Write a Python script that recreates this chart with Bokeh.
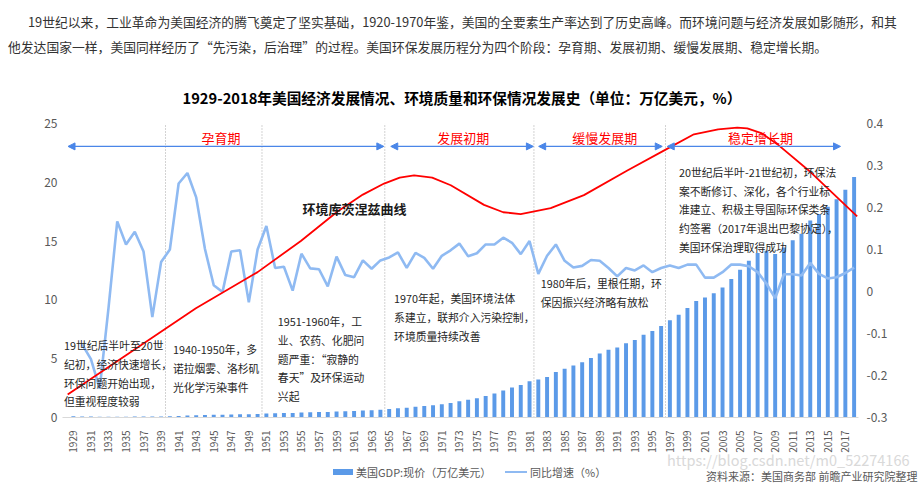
import math
from bokeh.plotting import figure
from bokeh.layouts import column
from bokeh.models import (Range1d, LinearAxis, FixedTicker, Label, Arrow,
                          NormalHead, ColumnDataSource, Div)
from bokeh.embed import file_html
from bokeh.resources import INLINE

# ---------------- data ----------------
years = list(range(1929, 2019))

gdp = [0.10, 0.09, 0.08, 0.06, 0.06, 0.07, 0.07, 0.08, 0.09, 0.09,   # 1929-1938
       0.09, 0.10, 0.13, 0.17, 0.20, 0.22, 0.23, 0.23, 0.25, 0.27,   # 1939-1948
       0.27, 0.29, 0.34, 0.36, 0.38, 0.38, 0.42, 0.44, 0.46, 0.47,   # 1949-1958
       0.51, 0.53, 0.55, 0.59, 0.62, 0.66, 0.72, 0.79, 0.83, 0.91,   # 1959-1968
       0.98, 1.04, 1.13, 1.24, 1.38, 1.50, 1.64, 1.82, 2.03, 2.29,   # 1969-1978
       2.56, 2.76, 3.09, 3.24, 3.45, 3.86, 4.14, 4.42, 4.70, 5.06,   # 1979-1988
       5.44, 5.76, 5.95, 6.31, 6.60, 7.04, 7.35, 7.77, 8.27, 8.74,   # 1989-1998
       9.30, 9.90, 10.21, 10.56, 11.06, 11.78, 12.56, 13.32, 13.98, 14.18,  # 1999-2008
       13.90, 14.46, 15.07, 15.63, 16.74, 17.30, 17.91, 18.55, 19.36, 20.45]  # 2009-2018

growth = [float("nan"),
          -0.126, -0.161, -0.231, -0.040, 0.167, 0.112, 0.142, 0.095, -0.061, 0.070,   # 1930-1939
          0.100, 0.257, 0.282, 0.224, 0.101, 0.015, -0.001, 0.095, 0.098, -0.026,     # 1940-1949
          0.100, 0.156, 0.056, 0.059, 0.002, 0.090, 0.055, 0.053, 0.012, 0.083,       # 1950-1959
          0.039, 0.034, 0.074, 0.054, 0.074, 0.081, 0.093, 0.056, 0.092, 0.080,       # 1960-1969
          0.054, 0.085, 0.098, 0.114, 0.084, 0.091, 0.112, 0.112, 0.128, 0.116,       # 1970-1979
          0.089, 0.120, 0.042, 0.085, 0.112, 0.073, 0.057, 0.061, 0.075, 0.073,       # 1980-1989
          0.056, 0.036, 0.056, 0.050, 0.062, 0.046, 0.056, 0.062, 0.056, 0.064,       # 1990-1999
          0.064, 0.033, 0.033, 0.046, 0.064, 0.064, 0.060, 0.046, 0.019, -0.016,      # 2000-2009
          0.041, 0.041, 0.038, 0.068, 0.042, 0.031, 0.034, 0.044, 0.057]              # 2010-2018

# environmental Kuznets curve (year / left-axis units)
curve_x = [1928.35, 1942.97, 1950.00, 1954.93, 1959.11, 1962.0, 1964.42, 1966.2, 1967.84,
           1969.9, 1972.02, 1975.81, 1978.0, 1979.99, 1983.41, 1987.20, 1992.15,
           1996.62, 1999.74, 2002.5, 2004.68, 2005.82, 2007.5, 2009.24, 2013.03, 2018.35]
curve_y = [1.96, 9.29, 12.36, 15.01, 17.52, 18.95, 19.89, 20.40, 20.59,
           20.40, 19.75, 18.08, 17.45, 17.30, 17.80, 18.91, 21.00,
           22.82, 24.08, 24.50, 24.64, 24.58, 24.15, 23.24, 20.87, 17.10]

left_ticks = [0, 5, 10, 15, 20, 25]
right_ticks = [-0.3, -0.2, -0.1, 0, 0.1, 0.2, 0.3, 0.4]
year_ticks = years[::2]

phase_names = ["孕育期", "发展初期", "缓慢发展期", "稳定增长期"]
phase_start = [1928.39, 1965.18, 1982.04, 1996.70]
phase_end = [1964.39, 1981.44, 1996.13, 2016.45]
phase_label_x = [1945.82, 1973.44, 1989.58, 2007.33]
phase_bounds = [1939.5, 1950.5, 1964.5, 1981.5, 1996.5]

notes = [
    (1927.93, 6.14, ["19世纪后半叶至20世", "纪初，经济快速增长，", "环保问题开始出现，", "但重视程度较弱"]),
    (1940.35, 5.81, ["1940-1950年，多", "诺拉烟雾、洛杉矶", "光化学污染事件"]),
    (1952.31, 8.18, ["1951-1960年，工", "业、农药、化肥问", "题严重：“寂静的", "春天”及环保运动", "兴起"]),
    (1965.56, 10.13, ["1970年起，美国环境法体", "系建立，联邦介入污染控制，", "环境质量持续改善"]),
    (1982.27, 11.44, ["1980年后，里根任期，环", "保因振兴经济略有放松"]),
    (1998.03, 20.87, ["20世纪后半叶-21世纪初，环保法", "案不断修订、深化，各个行业标",
                      "准建立、积极主导国际环保类条", "约签署（2017年退出巴黎协定），",
                      "美国环保治理取得成功"]),
]

para = ["19世纪以来，工业革命为美国经济的腾飞奠定了坚实基础，1920-1970年鉴，美国的全要素生产率达到了历史高峰。而环境问题与经济发展如影随形，和其",
        "他发达国家一样，美国同样经历了“先污染，后治理”的过程。美国环保发展历程分为四个阶段：孕育期、发展初期、缓慢发展期、稳定增长期。"]
title = "1929-2018年美国经济发展情况、环境质量和环保情况发展史（单位：万亿美元，%）"
legend_labels = ["美国GDP:现价（万亿美元）", "同比增速（%）"]
source_text = "资料来源：美国商务部 前瞻产业研究院整理"
watermark = "https://blog.csdn.net/m0_52274166"

FONT = "Noto Sans CJK SC"
BAR = "#5b9ae8"
LINE = "#8fbaf2"
ARROW = "#4a86e8"
GREY = "#595959"

W = 923
TOP_H = 62
MAIN_H = 393
BOT_H = 483 - TOP_H - MAIN_H
FRAME_H = 361
PX_PER_UNIT = 299 / 25.0

# ---------------- paragraph (HTML text above the chart) ----------------
top_html = (
    f'<div style="position:relative;width:{W}px;height:{TOP_H}px;font-family:\'{FONT}\';'
    f'font-size:12.8px;color:#333333;white-space:nowrap;">'
    f'<div style="position:absolute;left:28px;top:14px;line-height:16px;">{para[0]}</div>'
    f'<div style="position:absolute;left:8px;top:39px;line-height:16px;">{para[1]}</div>'
    f'</div>')
div_top = Div(text=top_html, width=W, height=TOP_H, margin=0)

# ---------------- main chart ----------------
y_top = FRAME_H / PX_PER_UNIT
g_top = -0.3 + 0.7 * FRAME_H / 299.0
p = figure(width=W, height=MAIN_H, x_range=Range1d(1927.76, 2018.5), y_range=Range1d(0, y_top),
           output_backend="svg", toolbar_location=None,
           min_border_left=62, min_border_right=65, min_border_top=0,
           min_border_bottom=MAIN_H - FRAME_H, margin=0)
p.extra_y_ranges = {"growth": Range1d(-0.3, g_top)}
p.xgrid.visible = False
p.ygrid.visible = False
p.outline_line_color = None
p.background_fill_color = "white"
p.border_fill_color = "white"

src = ColumnDataSource(dict(year=years, gdp=gdp, growth=growth))

p.segment(x0=phase_bounds, y0=[0] * len(phase_bounds), x1=phase_bounds,
          y1=[left_ticks[-1]] * len(phase_bounds),
          line_color="#a6a6a6", line_dash="1 2", line_width=1)

bars = p.vbar(x="year", top="gdp", width=0.45, source=src, fill_color=BAR, line_color=None)
gl = p.line(x="year", y="growth", source=src, y_range_name="growth",
            line_color=LINE, line_width=2.6)
p.line(curve_x, curve_y, line_color="#ff0000", line_width=1.8)

xa = p.xaxis[0]
xa.ticker = FixedTicker(ticks=year_ticks)
xa.major_label_orientation = math.pi / 2
xa.major_tick_line_color = None
xa.minor_tick_line_color = None
xa.axis_line_color = "#d9d9d9"
xa.major_label_text_color = GREY
xa.major_label_text_font = FONT
xa.major_label_text_font_size = "10px"
xa.major_label_standoff = 7

ya = p.yaxis[0]
ya.ticker = FixedTicker(ticks=left_ticks)
ya.axis_line_color = None
ya.major_tick_line_color = None
ya.minor_tick_line_color = None
ya.major_tick_out = 0
ya.minor_tick_out = 0
ya.major_label_text_color = GREY
ya.major_label_text_font = FONT
ya.major_label_text_font_size = "12px"
ya.major_label_standoff = 5

ra = LinearAxis(y_range_name="growth", ticker=FixedTicker(ticks=right_ticks),
                major_label_overrides={t: str(t) for t in right_ticks})
ra.axis_line_color = None
ra.major_tick_line_color = None
ra.minor_tick_line_color = None
ra.major_tick_out = 0
ra.minor_tick_out = 0
ra.major_label_text_color = GREY
ra.major_label_text_font = FONT
ra.major_label_text_font_size = "12px"
ra.major_label_standoff = 8
p.add_layout(ra, "right")


def label(x, y, text, size="11px", color="#262626", style="normal", align="left"):
    p.add_layout(Label(x=x, y=y, text=text, text_font=FONT, text_font_size=size,
                       text_color=color, text_font_style=style, text_align=align,
                       text_baseline="middle"))


for name, x0, x1, lx in zip(phase_names, phase_start, phase_end, phase_label_x):
    p.add_layout(Arrow(x_start=x0, y_start=23.05, x_end=x1, y_end=23.05,
                       line_color=ARROW, line_width=1.2,
                       start=NormalHead(size=7, fill_color=ARROW, line_color=ARROW),
                       end=NormalHead(size=7, fill_color=ARROW, line_color=ARROW)))
    label(lx, 23.8, name, size="13px", color="#ff0000", align="center")

for x, y, lines in notes:
    for i, t in enumerate(lines):
        label(x, y - i * 1.59, t, size="10.8px")

label(1955.12, 17.8, "环境库茨涅兹曲线", size="13px", color="#1a1a1a", style="bold")
label(1973.30, 27.23, title, size="14.7px", color="#000000", style="bold", align="center")

# ---------------- legend / source (HTML strip below the chart) ----------------
bot_html = (
    f'<div style="position:relative;width:{W}px;height:{BOT_H}px;font-family:\'{FONT}\';'
    f'white-space:nowrap;color:{GREY};font-size:11px;">'
    f'<div style="position:absolute;left:667px;top:-2px;line-height:14px;font-size:14.5px;color:#d9d9d9;">{watermark}</div>'
    f'<div style="position:absolute;left:333px;top:14px;width:20px;height:6px;background:{BAR};"></div>'
    f'<div style="position:absolute;left:356px;top:9px;line-height:16px;">{legend_labels[0]}</div>'
    f'<div style="position:absolute;left:505px;top:15.5px;width:22px;height:2.6px;background:{LINE};"></div>'
    f'<div style="position:absolute;left:530px;top:9px;line-height:16px;">{legend_labels[1]}</div>'
    f'<div style="position:absolute;left:706px;top:15px;line-height:13px;">{source_text}</div>'
    f'</div>')
div_bot = Div(text=bot_html, width=W, height=BOT_H, margin=0)

layout = column(div_top, p, div_bot, spacing=0)
open("out.html", "w").write(file_html(layout, INLINE))
